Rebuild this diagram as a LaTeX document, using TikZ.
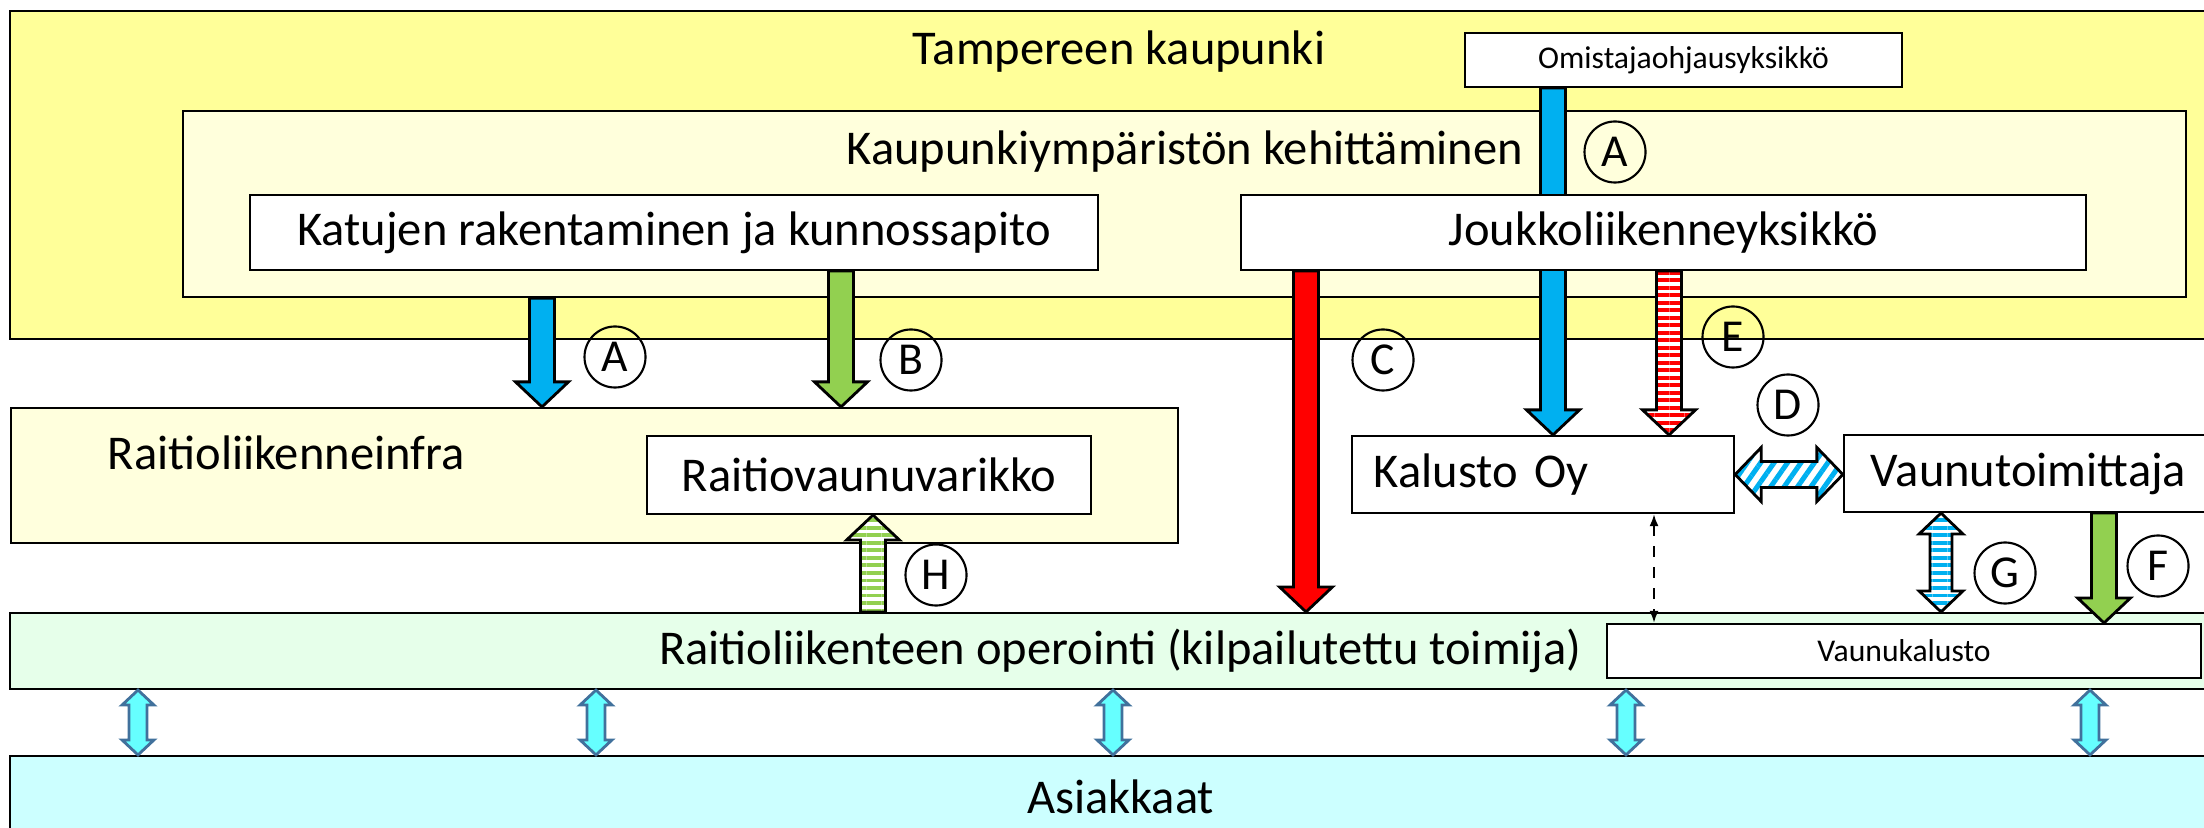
\documentclass[tikz,border=0pt]{standalone}
\usepackage{fontspec}
\setmainfont{Carlito}
\usetikzlibrary{calc,patterns.meta,arrows.meta}

\definecolor{cityyellow}{HTML}{FFFF99}
\definecolor{unityellow}{HTML}{FFFFDC}
\definecolor{infrayellow}{HTML}{FFFFDD}
\definecolor{opgreen}{HTML}{E6FFEA}
\definecolor{custcyan}{HTML}{CCFFFF}
\definecolor{flowblue}{HTML}{00B0F0}
\definecolor{flowgreen}{HTML}{92D050}
\definecolor{flowred}{HTML}{FF0000}
\definecolor{linkcyan}{HTML}{66FFFF}
\definecolor{linkedge}{HTML}{41719C}

\newcommand\arrowsize[3]{\def\arsw{#1}\def\arhw{#2}\def\arhl{#3}}
\newcommand\onearrow[3]{%
  \coordinate (hb) at ($(#3)!\arhl!(#2)$);
  \path[#1] ($(#2)!\arsw!90:(#3)$) -- ($(hb)!\arsw!90:(#3)$) -- ($(hb)!\arhw!90:(#3)$) -- (#3)
    -- ($(hb)!\arhw!-90:(#3)$) -- ($(hb)!\arsw!-90:(#3)$) -- ($(#2)!\arsw!-90:(#3)$) -- cycle}
\newcommand\twoarrow[3]{%
  \coordinate (hba) at ($(#2)!\arhl!(#3)$);
  \coordinate (hbb) at ($(#3)!\arhl!(#2)$);
  \path[#1] (#2) -- ($(hba)!\arhw!90:(#3)$) -- ($(hba)!\arsw!90:(#3)$) -- ($(hbb)!\arsw!90:(#3)$)
    -- ($(hbb)!\arhw!90:(#3)$) -- (#3) -- ($(hbb)!\arhw!-90:(#3)$) -- ($(hbb)!\arsw!-90:(#3)$)
    -- ($(hba)!\arsw!-90:(#3)$) -- ($(hba)!\arhw!-90:(#3)$) -- cycle}

\begin{document}
\begin{tikzpicture}[x=0.01cm,y=-0.01cm,
    box/.style={draw,line width=0.6pt,inner sep=0pt},
    bigtext/.style={font=\fontsize{13.8}{16}\selectfont},
    smalltext/.style={font=\fontsize{9}{11}\selectfont},
    tag/.style={circle,draw,line width=0.6pt,minimum size=0.61cm,inner sep=0pt,font=\fontsize{13}{15}\selectfont},
    fat/.style={draw,line width=0.8pt,line join=miter},
    link/.style={fill=linkcyan,draw=linkedge,line width=0.8pt},
    stripes/.style 2 args={preaction={fill=white},pattern={Lines[angle=#1,distance=0.075cm,line width=0.037cm]},pattern color=#2},
    slant/.style={preaction={fill=white},pattern={Lines[angle=55,distance=0.11cm,line width=0.05cm]},pattern color=flowblue}]
            \useasboundingbox (0,0) rectangle (2204,828);

            \node[box,fill=cityyellow,minimum width=22.19cm,minimum height=3.28cm] (city) at (1120.5,175) {};
            \node[bigtext] (citytitle) at (1119,52) {Tampereen kaupunki};
            \node[box,fill=unityellow,minimum width=20.01cm,minimum height=1.86cm] (kymp) at (1184.5,204) {};
            \node[bigtext] (kymptitle) at (1185,152) {Kaupunkiympäristön kehittäminen};
            \node[box,fill=white,smalltext,minimum width=4.37cm,minimum height=0.54cm] (omistaja) at (1683.5,60) {Omistajaohjausyksikkö};
            \node[box,fill=white,bigtext,minimum width=8.48cm,minimum height=0.75cm] (katu) at (674,232.5) {Katujen rakentaminen ja kunnossapito};

            \node[box,fill=infrayellow,minimum width=11.67cm,minimum height=1.35cm] (infra) at (594.5,475.5) {};
            \node[bigtext,anchor=west,inner sep=0pt] (infratitle) at (107,453) {Raitioliikenneinfra};
            \node[box,fill=white,bigtext,minimum width=4.44cm,minimum height=0.78cm] (varikko) at (869,475) {Raitiovaunuvarikko};
            \node[box,fill=white,bigtext,minimum width=3.82cm,minimum height=0.77cm,text width=3.38cm,align=left] (kalusto) at (1543,474.5) {Kalusto Oy};
            \node[box,fill=white,bigtext,minimum width=3.86cm,minimum height=0.77cm,text width=3.32cm,align=left] (vaunutoim) at (2037,473.5) {Vaunutoimittaja};

            \node[box,fill=opgreen,bigtext,minimum width=22.19cm,minimum height=0.76cm] (operointi) at (1120.5,651) {Raitioliikenteen operointi (kilpailutettu toimija)};
            \node[box,fill=white,smalltext,minimum width=5.94cm,minimum height=0.54cm] (vkalusto) at (1904,651) {Vaunukalusto};
            \node[box,fill=custcyan,bigtext,minimum width=22.19cm,minimum height=0.82cm] (asiakkaat) at (1120.5,797) {Asiakkaat};

            \arrowsize{0.125cm}{0.265cm}{0.25cm}
            \onearrow{fat,fill=flowblue}{1553,0 |- omistaja.south}{1553,0 |- kalusto.north};
            \node[box,fill=white,bigtext,minimum width=8.45cm,minimum height=0.75cm] (joukko) at (1663.5,232.5) {Joukkoliikenneyksikkö};

            \onearrow{fat,fill=flowblue}{542,0 |- kymp.south}{542,0 |- infra.north};
            \onearrow{fat,fill=flowgreen}{841,0 |- katu.south}{841,0 |- infra.north};
            \onearrow{fat,fill=flowred}{1306,0 |- joukko.south}{1306,0 |- operointi.north};
            \onearrow{fat,stripes={0}{flowred}}{1669,0 |- joukko.south}{1669,0 |- kalusto.north};
            \onearrow{fat,fill=flowgreen}{2104,0 |- vaunutoim.south}{2104,0 |- vkalusto.north};
            \onearrow{fat,stripes={0}{flowgreen}}{873,0 |- operointi.north}{873,0 |- varikko.south};

            \arrowsize{0.13cm}{0.27cm}{0.26cm}
            \twoarrow{fat,slant}{kalusto.east}{vaunutoim.west |- kalusto.east};

            \arrowsize{0.11cm}{0.22cm}{0.21cm}
            \twoarrow{fat,stripes={0}{flowblue}}{1941,0 |- vaunutoim.south}{1941,0 |- operointi.north};

            \draw[dashed,line width=0.6pt,{Latex[length=0.12cm,width=0.09cm]}-{Latex[length=0.12cm,width=0.09cm]}] (1654,0 |- kalusto.south) -- (1654,0 |- vkalusto.north);

            \arrowsize{0.09cm}{0.16cm}{0.15cm}
            \foreach \xpos in {138,596,1113,1626,2090}
               {\twoarrow{link}{\xpos,0 |- operointi.south}{\xpos,0 |- asiakkaat.north};}

            \node[tag] (tagAi) at (615,357) {A};
            \node[tag] (tagB) at (911,360) {B};
            \node[tag] (tagC) at (1383,360) {C};
            \node[tag] (tagAii) at (1615,152) {A};
            \node[tag] (tagE) at (1733,337) {E};
            \node[tag] (tagD) at (1788,405) {D};
            \node[tag] (tagG) at (2005,573) {G};
            \node[tag] (tagF) at (2158,566) {F};
            \node[tag] (tagH) at (936,575) {H};
          \end{tikzpicture}
\end{document}
